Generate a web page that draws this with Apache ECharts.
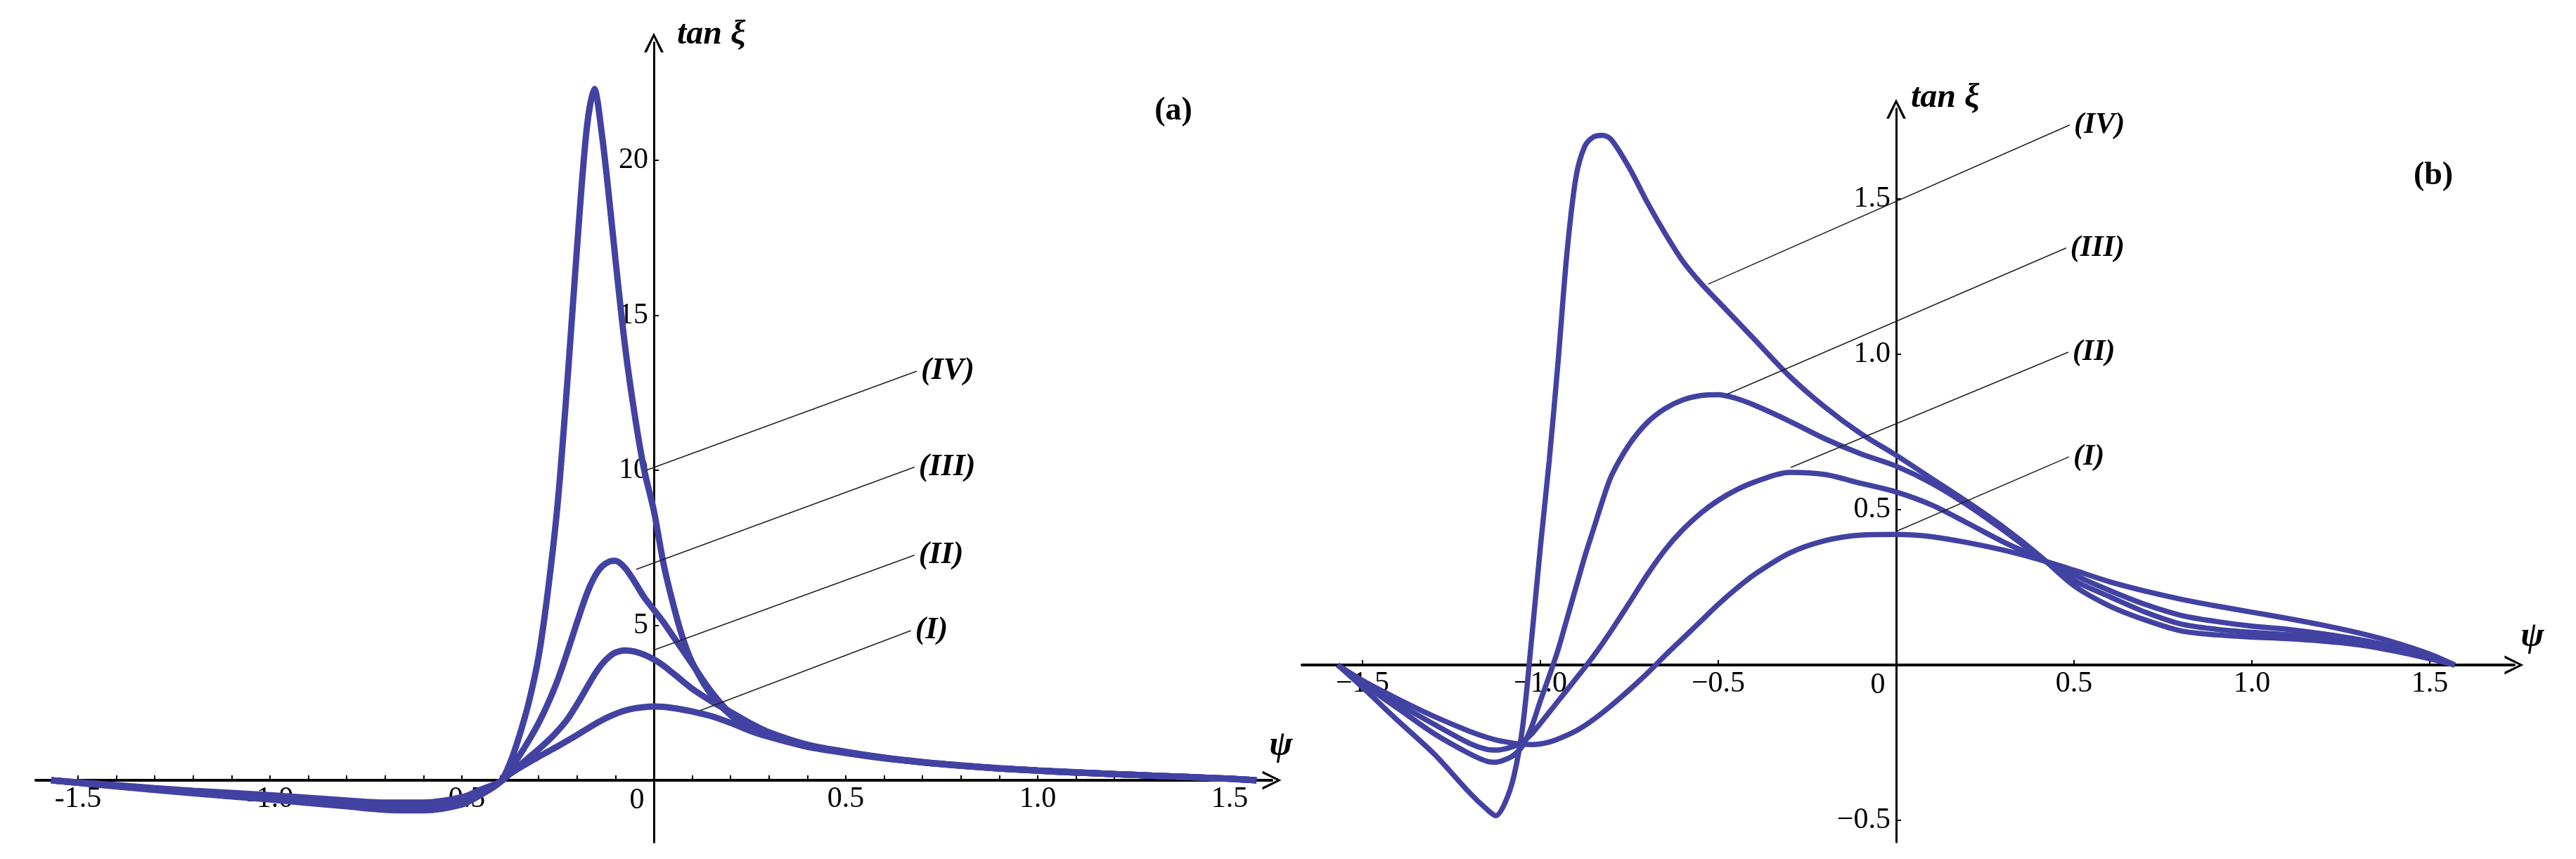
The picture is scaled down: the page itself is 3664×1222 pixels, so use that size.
<!DOCTYPE html>
<html>
<head>
<meta charset="utf-8">
<title>tan xi vs psi</title>
<script src="https://cdn.jsdelivr.net/npm/echarts@6/dist/echarts.min.js"></script>
<style>
  html, body { margin: 0; padding: 0; background: #fff; }
  #chart { width: 3664px; height: 1222px; }
</style>
</head>
<body>
<div id="chart"></div>
<script>
// panel (a): psi grid and the four curves
var aPsi = [-1.57, -1.4, -1.2, -1.0, -0.8, -0.7, -0.6, -0.5, -0.45, -0.4, -0.375, -0.35, -0.325, -0.3, -0.275, -0.25,
  -0.225, -0.2, -0.175, -0.155, -0.135, -0.115, -0.1, -0.075, -0.05, -0.025, 0, 0.025, 0.05, 0.075, 0.1, 0.15,
  0.2, 0.25, 0.3, 0.4, 0.5, 0.6, 0.7, 0.8, 0.9, 1.0, 1.1, 1.2, 1.3, 1.4, 1.5, 1.57];
var aI = [0, -0.16, -0.34, -0.48, -0.65, -0.72, -0.72, -0.55, -0.3, -0.05, 0.2, 0.4, 0.58, 0.76, 0.93, 1.1,
  1.28, 1.46, 1.65, 1.8, 1.94, 2.06, 2.14, 2.25, 2.32, 2.36, 2.38, 2.37, 2.33, 2.28, 2.22, 2.07,
  1.85, 1.6, 1.4, 1.08, 0.88, 0.71, 0.58, 0.47, 0.38, 0.31, 0.25, 0.2, 0.15, 0.1, 0.05, 0];
var aII = [0, -0.18, -0.37, -0.53, -0.72, -0.8, -0.8, -0.62, -0.35, -0.05, 0.22, 0.48, 0.74, 1.0, 1.28, 1.6,
  1.97, 2.45, 2.98, 3.4, 3.75, 4.0, 4.12, 4.19, 4.15, 4.05, 3.9, 3.7, 3.45, 3.2, 2.95, 2.55,
  2.2, 1.85, 1.55, 1.15, 0.92, 0.73, 0.59, 0.48, 0.39, 0.32, 0.26, 0.2, 0.15, 0.1, 0.05, 0];
var aIII = [0, -0.19, -0.39, -0.57, -0.78, -0.88, -0.88, -0.69, -0.4, -0.05, 0.35, 0.8, 1.3, 1.85, 2.5, 3.25,
  4.15, 5.1, 6.0, 6.55, 6.9, 7.06, 7.08, 6.85, 6.4, 5.9, 5.5, 5.1, 4.65, 4.2, 3.75, 2.85,
  2.15, 1.72, 1.44, 1.1, 0.9, 0.72, 0.58, 0.47, 0.38, 0.31, 0.25, 0.2, 0.15, 0.1, 0.05, 0];
var aIV = [0, -0.2, -0.42, -0.62, -0.84, -0.95, -0.97, -0.78, -0.46, -0.05, 0.55, 1.45, 2.55, 4.0, 6.2, 9.0,
  12.9, 17.2, 21.0, 22.3, 20.8, 18.6, 16.8, 14.0, 11.8, 10.0, 8.7, 7.0, 5.7, 4.6, 3.8, 2.75,
  2.1, 1.7, 1.42, 1.1, 0.9, 0.72, 0.58, 0.47, 0.38, 0.31, 0.25, 0.2, 0.15, 0.1, 0.05, 0];

// panel (b)
var bPsi = [-1.57, -1.5, -1.4, -1.3, -1.2, -1.15, -1.125, -1.1, -1.075, -1.05, -1.025, -1.0, -0.975, -0.95, -0.925, -0.9,
  -0.875, -0.85, -0.825, -0.8, -0.75, -0.7, -0.65, -0.6, -0.55, -0.5, -0.45, -0.4, -0.3, -0.2, -0.1,
  0, 0.1, 0.2, 0.3, 0.4, 0.5, 0.6, 0.7, 0.8, 0.9, 1.0, 1.1, 1.2, 1.3, 1.4, 1.5, 1.57];
var bI = [0, -0.05, -0.11, -0.165, -0.213, -0.233, -0.241, -0.247, -0.252, -0.255, -0.256, -0.254, -0.248, -0.238, -0.226, -0.212,
  -0.195, -0.175, -0.153, -0.13, -0.08, -0.027, 0.03, 0.085, 0.14, 0.195, 0.245, 0.29, 0.36, 0.4, 0.418,
  0.42, 0.413, 0.394, 0.37, 0.34, 0.305, 0.268, 0.238, 0.212, 0.19, 0.17, 0.15, 0.128, 0.103, 0.073, 0.035, 0];
var bII = [0, -0.055, -0.125, -0.19, -0.252, -0.272, -0.274, -0.27, -0.262, -0.248, -0.222, -0.188, -0.152, -0.116, -0.08, -0.044,
  -0.008, 0.03, 0.07, 0.112, 0.2, 0.29, 0.37, 0.435, 0.488, 0.53, 0.563, 0.588, 0.62, 0.613, 0.585,
  0.557, 0.515, 0.457, 0.397, 0.345, 0.29, 0.24, 0.195, 0.16, 0.14, 0.125, 0.115, 0.1, 0.082, 0.058, 0.027, 0];
var bIII = [0, -0.06, -0.14, -0.22, -0.285, -0.31, -0.313, -0.305, -0.29, -0.26, -0.2, -0.115, -0.035, 0.05, 0.15, 0.25,
  0.35, 0.44, 0.53, 0.61, 0.71, 0.78, 0.825, 0.853, 0.867, 0.87, 0.858, 0.837, 0.785, 0.728, 0.68,
  0.64, 0.585, 0.515, 0.435, 0.35, 0.272, 0.22, 0.17, 0.132, 0.115, 0.105, 0.098, 0.088, 0.072, 0.05, 0.023, 0];
var bIV = [0, -0.072, -0.18, -0.285, -0.41, -0.465, -0.485, -0.445, -0.36, -0.2, 0.08, 0.38, 0.66, 0.98, 1.33, 1.57,
  1.67, 1.7, 1.705, 1.69, 1.6, 1.49, 1.39, 1.3, 1.23, 1.17, 1.11, 1.05, 0.93, 0.83, 0.745,
  0.675, 0.6, 0.525, 0.445, 0.355, 0.255, 0.19, 0.145, 0.11, 0.097, 0.09, 0.085, 0.077, 0.065, 0.045, 0.02, 0];

// ticks and tick labels
var aXTicks = [-1.5, -1.4, -1.3, -1.2, -1.1, -1.0, -0.9, -0.8, -0.7, -0.6, -0.5, -0.4, -0.3, -0.2, -0.1,
  0.1, 0.2, 0.3, 0.4, 0.5, 0.6, 0.7, 0.8, 0.9, 1.0, 1.1, 1.2, 1.3, 1.4, 1.5];
var aXLabels = [-1.5, -1.0, -0.5, 0, 0.5, 1.0, 1.5];
var aYTicks = [5, 10, 15, 20];
var bXTicks = [-1.5, -1.0, -0.5, 0.5, 1.0, 1.5];
var bXLabels = [-1.5, -1.0, -0.5, 0, 0.5, 1.0, 1.5];
var bYTicks = [-0.5, 0.5, 1.0, 1.5];

// curve names and leader lines [start, end]
var curveNames = ['(I)', '(II)', '(III)', '(IV)'];
var aLeaders = [
  [[0.121, 2.25], [0.67, 4.83]],
  [[0.0, 4.2], [0.679, 7.26]],
  [[-0.046, 6.8], [0.679, 10.1]],
  [[-0.02, 10.0], [0.685, 13.2]]
];
var bLeaders = [
  [[0.0, 0.43], [0.486, 0.67]],
  [[-0.296, 0.636], [0.484, 1.007]],
  [[-0.476, 0.871], [0.478, 1.342]],
  [[-0.528, 1.226], [0.488, 1.738]]
];

var W = 3664, H = 1222;
var SERIF = '"Liberation Serif", "Times New Roman", serif';
var CURVE = '#4242a3';
var ARROW = 'path://M50,0 L100,100 L86,100 L50,24 L14,100 L0,100 Z';

// panel frames: where the origin sits and how many px per unit
var panels = [
  { ox: 930, oy: 1110, sx: 546, sy: 44.1, xMin: -1.61, xMax: 1.61, yMin: -2.0, yMax: 23.8, minus: '-', zeroShift: 24, width: 9 },
  { ox: 2697, oy: 946, sx: 506, sy: 442, xMin: -1.67, xMax: 1.737, yMin: -0.57, yMax: 1.79, minus: '\u2212', zeroShift: 26, width: 7.5 }
];
panels.forEach(function (p) {
  p.left = p.ox + p.xMin * p.sx;
  p.right = W - (p.ox + p.xMax * p.sx);
  p.top = p.oy - p.yMax * p.sy;
  p.bottom = H - (p.oy - p.yMin * p.sy);
  // axes cross at the origin: shift each axis in from its grid edge
  p.xOffset = p.yMin * p.sy;
  p.yOffset = p.xMin * p.sx;
});

function zip(xs, ys) {
  return xs.map(function (x, i) { return [x, ys[i]]; });
}

function fmt(v, minus) {
  var s = v.toFixed(Math.abs(v) >= 5 ? 0 : 1);
  return v < 0 ? minus + s.slice(1) : s;
}

function xAxisOf(i, ticks, labels) {
  var p = panels[i];
  return {
    type: 'value', gridIndex: i, min: p.xMin, max: p.xMax, offset: p.xOffset,
    splitLine: { show: false },
    axisLine: {
      onZero: false, symbol: ['none', ARROW], symbolSize: [27, 36],
      lineStyle: { color: '#000', width: 4 }
    },
    axisTick: { show: true, inside: true, length: 7, customValues: ticks, lineStyle: { color: '#000', width: 2 } },
    axisLabel: {
      customValues: labels.filter(function (v) { return v !== 0; }),
      margin: 6, color: '#000', fontFamily: SERIF, fontSize: 42,
      formatter: function (v) { return fmt(v, p.minus); }
    }
  };
}

function yAxisOf(i, ticks) {
  var p = panels[i];
  return {
    type: 'value', gridIndex: i, min: p.yMin, max: p.yMax, offset: p.yOffset,
    splitLine: { show: false },
    axisLine: {
      onZero: false, symbol: ['none', ARROW], symbolSize: [28, 38],
      lineStyle: { color: '#000', width: 3 }
    },
    axisTick: { show: true, inside: true, length: 7, customValues: ticks, lineStyle: { color: '#000', width: 2 } },
    axisLabel: {
      customValues: ticks, margin: 8, color: '#000', fontFamily: SERIF, fontSize: 42,
      formatter: function (v) { return fmt(v, p.minus); }
    }
  };
}

var series = [];
[aI, aII, aIII, aIV].forEach(function (ys) {
  series.push({
    type: 'line', xAxisIndex: 0, yAxisIndex: 0, data: zip(aPsi, ys),
    symbol: 'none', smooth: 0.3, z: 3,
    lineStyle: { color: CURVE, width: panels[0].width }
  });
});
[bI, bII, bIII, bIV].forEach(function (ys) {
  series.push({
    type: 'line', xAxisIndex: 1, yAxisIndex: 1, data: zip(bPsi, ys),
    symbol: 'none', smooth: 0.3, z: 3,
    lineStyle: { color: CURVE, width: panels[1].width }
  });
});
function leaders(list, axis, size) {
  list.forEach(function (pts, i) {
    series.push({
      type: 'line', xAxisIndex: axis, yAxisIndex: axis, data: pts,
      symbol: 'none', z: 4,
      lineStyle: { color: '#222', width: 1.6 },
      endLabel: {
        show: true, formatter: curveNames[i], distance: 6, color: '#000',
        fontFamily: SERIF, fontStyle: 'italic', fontWeight: 'bold', fontSize: size
      }
    });
  });
}
leaders(aLeaders, 0, 44);
leaders(bLeaders, 1, 42);

function label(text, x, y, font, align) {
  return {
    type: 'text', x: x, y: y, z: 10,
    style: { text: text, font: font, fill: '#000', align: align || 'left', verticalAlign: 'middle' }
  };
}

// the "0" tick label sits just left of the vertical axis
var zeroLabels = panels.map(function (p) {
  return label('0', p.ox - p.zeroShift, p.oy + 29, '42px ' + SERIF, 'center');
});

var chart = echarts.init(document.getElementById('chart'), null, { renderer: 'canvas' });
chart.setOption({
  animation: false,
  backgroundColor: '#fff',
  grid: panels.map(function (p) {
    return { left: p.left, right: p.right, top: p.top, bottom: p.bottom };
  }),
  xAxis: [xAxisOf(0, aXTicks, aXLabels), xAxisOf(1, bXTicks, bXLabels)],
  yAxis: [yAxisOf(0, aYTicks), yAxisOf(1, bYTicks)],
  graphic: zeroLabels.concat([
    label('tan \u03be', 963, 50, 'italic bold 48px ' + SERIF),
    label('(a)', 1669, 158, 'bold 46px ' + SERIF, 'center'),
    label('\u03c8', 1822, 1061, 'italic bold 50px ' + SERIF, 'center'),
    label('tan \u03be', 2718, 140, 'italic bold 48px ' + SERIF),
    label('(b)', 3461, 250, 'bold 46px ' + SERIF, 'center'),
    label('\u03c8', 3602, 906, 'italic bold 50px ' + SERIF, 'center')
  ]),
  series: series
});
</script>
</body>
</html>
